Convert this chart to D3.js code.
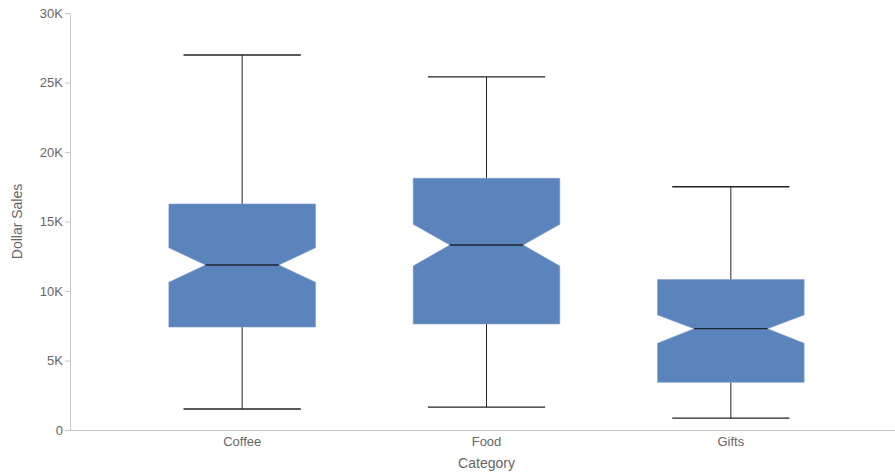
<script src="https://cdnjs.cloudflare.com/ajax/libs/d3/7.8.5/d3.min.js"></script>
<body style="margin:0">
<style>
  body { font-family: "Liberation Sans", Arial, sans-serif; background: #fff; }
  .tick text { fill: #666; font-size: 13px; }
</style>
<div id="chart"></div>
<script>
// data
var categories = ["Coffee", "Food", "Gifts"];
var whiskerLow  = [1510, 1650, 860];
var boxLow      = [7410, 7630, 3430];
var notchLow    = [10630, 11800, 6240];
var medians     = [11870, 13310, 7290];
var notchHigh   = [13110, 14800, 8280];
var boxHigh     = [16260, 18110, 10820];
var whiskerHigh = [26980, 25400, 17500];
var yTicks = [0, 5000, 10000, 15000, 20000, 25000, 30000];

var data = categories.map(function(c, i) {
  return {cat: c, lo: whiskerLow[i], q1: boxLow[i], nlo: notchLow[i], med: medians[i],
          nhi: notchHigh[i], q3: boxHigh[i], hi: whiskerHigh[i]};
});

var W = 895, H = 475;
var plotLeft = 70, plotRight = 895, plotTop = 13, plotBottom = 430;

var svg = d3.select("#chart").append("svg")
  .attr("width", W).attr("height", H);

var x = d3.scaleBand()
  .domain(categories)
  .range([120, 853])
  .paddingInner(0.4)
  .paddingOuter(0.2);

var y = d3.scaleLinear()
  .domain([0, 30000])
  .range([plotBottom, plotTop]);

// y axis
var yAxis = svg.append("g")
  .attr("transform", "translate(" + plotLeft + ",0)")
  .call(d3.axisLeft(y).tickValues(yTicks).tickSize(5).tickSizeOuter(0)
    .tickFormat(function(d) { return d === 0 ? "0" : (d / 1000) + "K"; }));
yAxis.selectAll("path, line").attr("stroke", "#c8c8c8");
yAxis.selectAll("text").attr("x", -7);

// x axis
var xAxis = svg.append("g")
  .attr("transform", "translate(0," + plotBottom + ")")
  .call(d3.axisBottom(x).tickSize(0).tickSizeOuter(0));
xAxis.select(".domain").remove();
xAxis.selectAll("text").attr("y", 7);
svg.append("line")
  .attr("x1", plotLeft).attr("x2", plotRight)
  .attr("y1", plotBottom + 0.5).attr("y2", plotBottom + 0.5)
  .attr("stroke", "#c8c8c8");

// axis titles
svg.append("text")
  .attr("transform", "translate(22," + ((plotTop + plotBottom) / 2) + ") rotate(-90)")
  .attr("text-anchor", "middle")
  .style("fill", "#666").style("font-size", "14px")
  .text("Dollar Sales");
svg.append("text")
  .attr("x", x("Food") + x.bandwidth() / 2)
  .attr("y", 468)
  .attr("text-anchor", "middle")
  .style("fill", "#666").style("font-size", "14px")
  .text("Category");

var bw = x.bandwidth();
var boxes = svg.selectAll(".box").data(data).enter().append("g")
  .attr("class", "box")
  .attr("transform", function(d) { return "translate(" + x(d.cat) + ",0)"; });

// whiskers
boxes.append("line")
  .attr("x1", bw / 2).attr("x2", bw / 2)
  .attr("y1", function(d) { return y(d.lo); })
  .attr("y2", function(d) { return y(d.q1); })
  .attr("stroke", "#222");
boxes.append("line")
  .attr("x1", bw / 2).attr("x2", bw / 2)
  .attr("y1", function(d) { return y(d.q3); })
  .attr("y2", function(d) { return y(d.hi); })
  .attr("stroke", "#222");
// caps
["lo", "hi"].forEach(function(k) {
  boxes.append("line")
    .attr("x1", bw * 0.1).attr("x2", bw * 0.9)
    .attr("y1", function(d) { return y(d[k]); })
    .attr("y2", function(d) { return y(d[k]); })
    .attr("stroke", "#222").attr("stroke-width", 1.3);
});

// notched box
boxes.append("path")
  .attr("d", function(d) {
    var a = bw * 0.25, b = bw * 0.75;
    return "M0," + y(d.q1) +
      "L0," + y(d.nlo) + "L" + a + "," + y(d.med) + "L0," + y(d.nhi) +
      "L0," + y(d.q3) + "L" + bw + "," + y(d.q3) +
      "L" + bw + "," + y(d.nhi) + "L" + b + "," + y(d.med) + "L" + bw + "," + y(d.nlo) +
      "L" + bw + "," + y(d.q1) + "Z";
  })
  .attr("fill", "#5b84bc")
  .attr("stroke", "#7c9ccb").attr("stroke-width", 0.6);

// median
boxes.append("line")
  .attr("x1", bw * 0.25).attr("x2", bw * 0.75)
  .attr("y1", function(d) { return y(d.med); })
  .attr("y2", function(d) { return y(d.med); })
  .attr("stroke", "#1d2433").attr("stroke-width", 1.3);
</script>
</body>
